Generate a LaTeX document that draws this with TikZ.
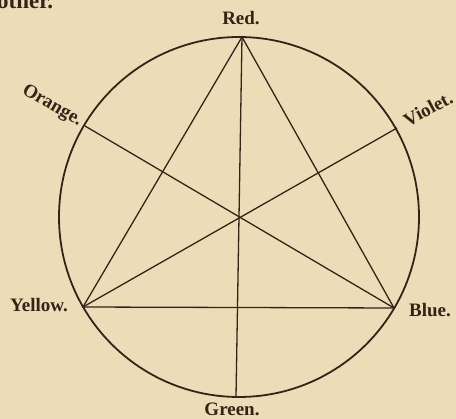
\documentclass[tikz,border=0pt]{standalone}
\usepackage{fontspec}
\setmainfont{Liberation Serif}
\definecolor{paper}{RGB}{236,221,184}
\definecolor{ink}{RGB}{52,36,24}
\begin{document}
\begin{tikzpicture}[x=1pt,y=-1pt,
  rim/.style={draw=ink,line width=1.8pt},
  chord/.style={draw=ink,line width=1.3pt},
  lab/.style={text=ink,font=\bfseries\fontsize{19}{20}\selectfont,inner sep=0pt}]
\fill[paper] (0,0) rectangle (456,419);
\useasboundingbox (0,0) rectangle (456,419);
\coordinate (O) at (239,217);
\coordinate (R) at (242,37);
\coordinate (G) at (236,397);
\coordinate (Y) at (83,307);
\coordinate (B) at (394,308);
\coordinate (Or) at (85,126);
\coordinate (V) at (397,128);
\draw[rim] (O) circle (180pt);
\draw[chord] (R) -- (Y) -- (B) -- cycle;
\draw[chord] (R) -- (G);
\draw[chord] (Or) -- (B);
\draw[chord] (V) -- (Y);
\node[lab] (lR) at (241,18) {Red.};
\node[lab] (lG) at (232,409) {Green.};
\node[lab] (lY) at (39,305) {Yellow.};
\node[lab] (lB) at (430,310) {Blue.};
\node[lab,rotate=-30] (lO) at (52,106) {Orange.};
\node[lab,rotate=28] (lV) at (428,109) {Violet.};
\node[text=ink,font=\bfseries\fontsize{23}{25}\selectfont,inner sep=0pt,anchor=base west] (top) at (-3,9) {other.};
\end{tikzpicture}
\end{document}
